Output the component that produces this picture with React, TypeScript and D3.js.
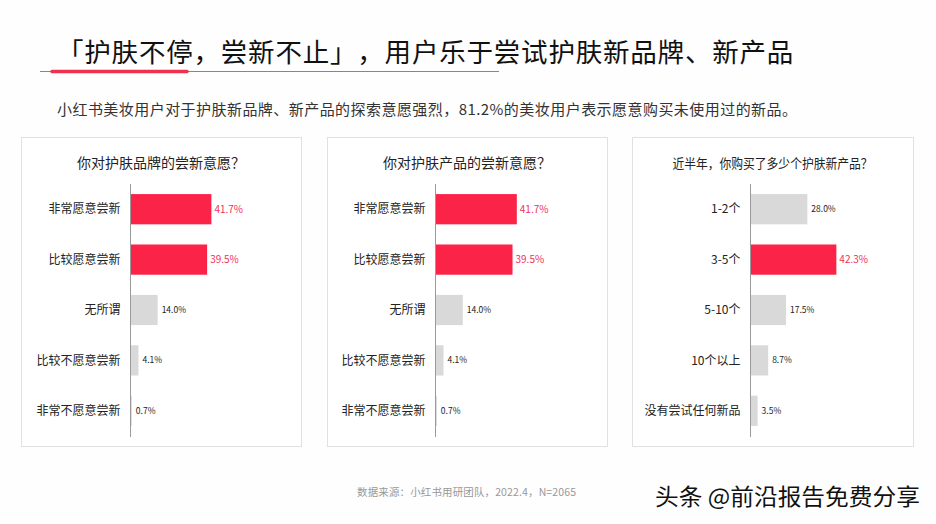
import React from "react";
import * as d3 from "d3";

const title = "「护肤不停，尝新不止」，用户乐于尝试护肤新品牌、新产品";
const subtitle = "小红书美妆用户对于护肤新品牌、新产品的探索意愿强烈，81.2%的美妆用户表示愿意购买未使用过的新品。";
const source = "数据来源：小红书用研团队，2022.4，N=2065";
const watermark = "头条 @前沿报告免费分享";

const panelTitles = ["你对护肤品牌的尝新意愿？", "你对护肤产品的尝新意愿？", "近半年，你购买了多少个护肤新产品？"];
const cats1 = ["非常愿意尝新", "比较愿意尝新", "无所谓", "比较不愿意尝新", "非常不愿意尝新"];
const vals1 = [41.7, 39.5, 14.0, 4.1, 0.7];
const cats2 = ["非常愿意尝新", "比较愿意尝新", "无所谓", "比较不愿意尝新", "非常不愿意尝新"];
const vals2 = [41.7, 39.5, 14.0, 4.1, 0.7];
const cats3 = ["1-2个", "3-5个", "5-10个", "10个以上", "没有尝试任何新品"];
const vals3 = [28.0, 42.3, 17.5, 8.7, 3.5];
const highlight1 = [true, true, false, false, false];
const highlight2 = [true, true, false, false, false];
const highlight3 = [false, true, false, false, false];

const RED = "#fb2348";
const RED_TXT = "#ee3158";
const GRAY = "#d9d9d9";
const FONT = "'Noto Sans CJK SC', 'Noto Sans', sans-serif";

type PanelProps = {
  x: number; w: number; axisX: number; pxPerPct: number; titleSize: number; titleLen?: number;
  title: string; cats: string[]; vals: number[]; hl: boolean[];
};

function Panel({ x, w, axisX, pxPerPct, titleSize, titleLen, title, cats, vals, hl }: PanelProps) {
  const top = 137, bottom = 446;
  const y = d3.scaleBand<string>().domain(cats).range([184, 436]).paddingInner(0.4).paddingOuter(0.2);
  const xs = d3.scaleLinear().domain([0, 1]).range([axisX, axisX + pxPerPct]);
  return (
    <g>
      <rect x={x + 0.5} y={top + 0.5} width={w} height={bottom - top} fill="#fff" stroke="#e1e1e1" strokeWidth={1} />
      <text x={x + w / 2} y={168} textAnchor="middle" fontSize={titleSize} fill="#222" fontFamily={FONT}
        textLength={titleLen} lengthAdjust={titleLen ? "spacingAndGlyphs" : undefined}>{title}</text>
      {cats.map((c, i) => {
        const by = y(c)!;
        const bw = xs(vals[i]) - axisX;
        return (
          <g key={c}>
            <rect x={axisX} y={by} width={bw} height={y.bandwidth()} fill={hl[i] ? RED : GRAY} />
            <text x={axisX - 10} y={by + y.bandwidth() / 2} dy="0.35em" textAnchor="end" fontSize={12} fill="#222" fontFamily={FONT}>{c}</text>
            <text x={xs(vals[i]) + (hl[i] ? 3 : 4)} y={by + y.bandwidth() / 2} dy="0.35em" fontSize={hl[i] ? 10 : 8.5}
              fill={hl[i] ? RED_TXT : "#222"} fontFamily={FONT}>{vals[i].toFixed(1) + "%"}</text>
          </g>
        );
      })}
      <line x1={axisX} x2={axisX} y1={184} y2={437} stroke="#9a9a9a" strokeWidth={1} />
    </g>
  );
}

export default function App() {
  const titleChars = Array.from(title);
  const titleX = titleChars.map((_, i) => 57 + i * 27.3).join(" ");
  return (
    <svg width={936} height={524} style={{ position: "absolute", left: 0, top: 0, background: "#fff" }}>
      <rect width={936} height={524} fill="#fefefe" />
      <text x={titleX} y={62} fontSize={26.5} fill="#111" fontFamily={FONT}>{title}</text>
      <line x1={40} x2={499} y1={71.5} y2={71.5} stroke="#f0556d" strokeWidth={1} />
      <line x1={52} x2={187} y1={71.5} y2={71.5} stroke="#f0304f" strokeWidth={3.5} strokeLinecap="round" />
      <text x={57} y={115} fontSize={15} fill="#333" fontFamily={FONT} textLength={740} lengthAdjust="spacing">{subtitle}</text>
      <Panel x={21} w={280} axisX={130.5} pxPerPct={1.94} titleSize={14} title={panelTitles[0]} cats={cats1} vals={vals1} hl={highlight1} />
      <Panel x={327} w={280} axisX={435.5} pxPerPct={1.95} titleSize={14} title={panelTitles[1]} cats={cats2} vals={vals2} hl={highlight2} />
      <Panel x={632} w={281} axisX={750.5} pxPerPct={2.03} titleSize={13} titleLen={200} title={panelTitles[2]} cats={cats3} vals={vals3} hl={highlight3} />
      <text x={357} y={496} fontSize={10.5} fill="#999" fontFamily={FONT} textLength={219} lengthAdjust="spacing">{source}</text>
      <text x={655} y={505} fontSize={23} fill="#111" stroke="#fff" strokeWidth={3} paintOrder="stroke" fontFamily={FONT} textLength={265} lengthAdjust="spacingAndGlyphs">{watermark}</text>
    </svg>
  );
}
